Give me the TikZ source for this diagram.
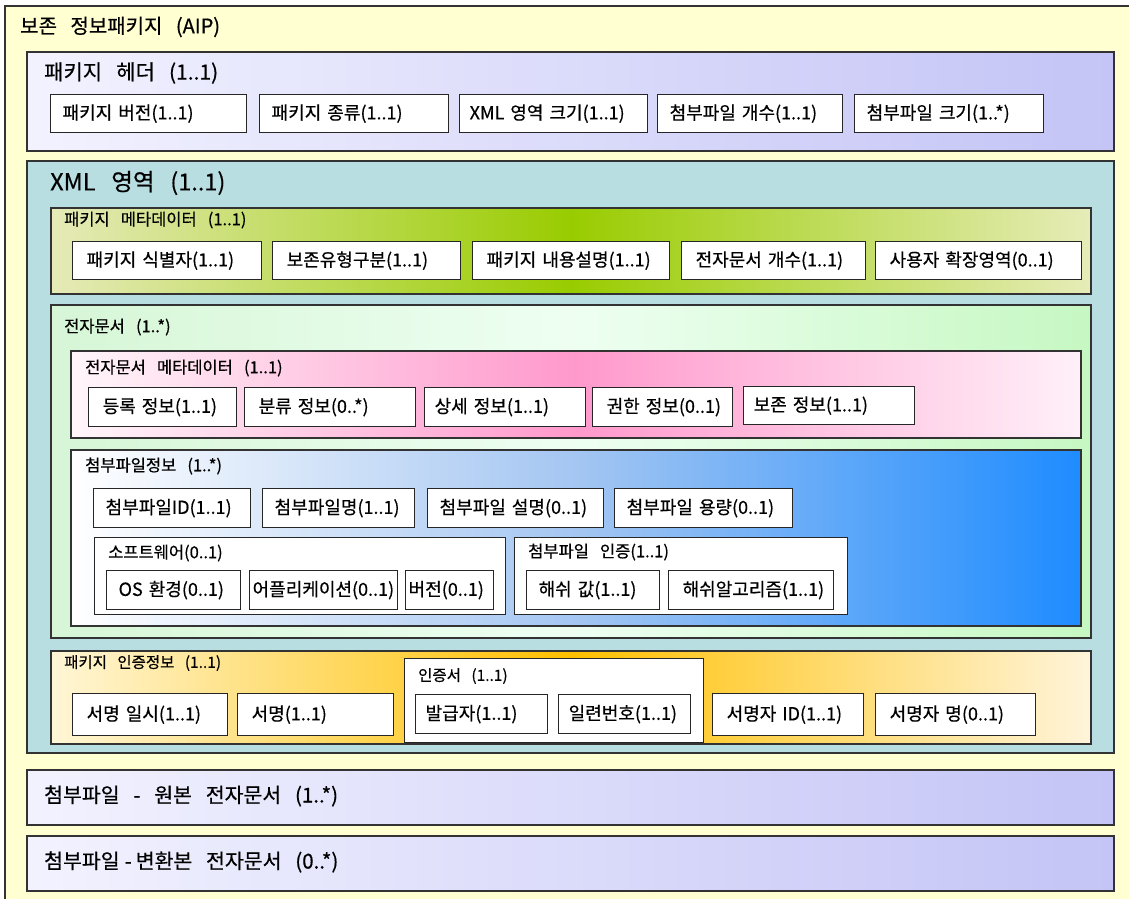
\documentclass[tikz,border=0pt]{standalone}
\usepackage{fontspec}
\setmainfont[WordSpace=3, FakeBold=0.5]{Noto Sans CJK KR}
\definecolor{aipY}{HTML}{FFFFD2}
\definecolor{hdrL}{HTML}{F2F2FF}
\definecolor{hdrR}{HTML}{C4C4F6}
\definecolor{xmlT}{HTML}{B8DEE2}
\definecolor{pmL}{HTML}{E6EAB8}
\definecolor{pmM}{HTML}{99CC00}
\definecolor{pmR}{HTML}{E6ECB8}
\definecolor{edL}{HTML}{D6F6D6}
\definecolor{edM}{HTML}{EEFFF2}
\definecolor{edR}{HTML}{C6F8C2}
\definecolor{emL}{HTML}{FFF6FA}
\definecolor{emM}{HTML}{FF99CC}
\definecolor{emR}{HTML}{FFF0F8}
\definecolor{atL}{HTML}{FFFFFF}
\definecolor{atM}{HTML}{A4C6F2}
\definecolor{atR}{HTML}{1E8CFF}
\definecolor{auL}{HTML}{FFF6D6}
\definecolor{auM}{HTML}{FFC000}
\definecolor{auR}{HTML}{FFF4DA}
\definecolor{lineC}{HTML}{333333}
\tikzset{
  container/.style={draw=lineC, line width=1.5pt, anchor=north west, inner sep=0pt},
  subcontainer/.style={draw=black!85, line width=1.3pt, fill=white, anchor=north west, inner sep=0pt},
  leafbox/.style={draw=black!85, line width=1.3pt, fill=white, anchor=north west,
     inner xsep=12pt, inner ysep=0pt, align=left, font=\fontsize{18}{18}\selectfont},
  aiptitle/.style={anchor=west, inner sep=0pt, font=\fontsize{20}{20}\selectfont},
  bigtitle/.style={anchor=west, inner sep=0pt, font=\fontsize{21}{21}\selectfont},
  bottitle/.style={anchor=west, inner sep=0pt, font=\fontsize{20.5}{20}\selectfont},
  xmltitle/.style={anchor=west, inner sep=0pt, font=\fontsize{23.5}{23}\selectfont},
  subtitle/.style={anchor=west, inner sep=0pt, font=\fontsize{16.5}{16}\selectfont},
  smalltitle/.style={anchor=west, inner sep=0pt, font=\fontsize{15.5}{15}\selectfont},
}
% #1 name, #2 x, #3 y, #4 width, #5 height, #6 text, #7 left padding
\newcommand\leafnode[7][12]{%
  \pgfmathsetmacro\tw{#5-2*#1}%
  \node[leafbox, inner xsep=#1pt, minimum width=#5, minimum height=#6, text width=\tw pt] (#2) at (#3,#4) {\mbox{#7}};}
\begin{document}
\begin{tikzpicture}[x=1pt,y=-1pt]
\useasboundingbox (0,0) rectangle (1129,898);
% outer AIP
\node[container, fill=aipY, minimum width=1140, minimum height=910] (aip) at (4,5) {};
\node[aiptitle] (aipT) at (20,27) {보존 정보패키지 (AIP)};
% package header
\node[container, left color=hdrL, right color=hdrR, minimum width=1087, minimum height=99] (hdr) at (26,51) {};
\node[bigtitle] (hdrT) at (44,73) {패키지 헤더 (1..1)};
\leafnode{h1}{50}{94}{196}{38}{패키지 버전(1..1)}
\leafnode{h2}{259}{94}{189}{38}{패키지 종류(1..1)}
\leafnode[10]{h3}{459}{94}{188}{38}{XML 영역 크기(1..1)}
\leafnode{h4}{657}{94}{185}{38}{첨부파일 개수(1..1)}
\leafnode{h5}{854}{94}{189}{38}{첨부파일 크기(1..*)}
% XML area
\node[container, fill=xmlT, minimum width=1087, minimum height=592] (xml) at (26,160) {};
\node[xmltitle] (xmlT) at (50,183) {XML 영역 (1..1)};
% package metadata
\node[container, left color=pmL, right color=pmR, middle color=pmM, minimum width=1040, minimum height=86] (pm) at (50,207) {};
\node[subtitle] (pmT) at (64,220) {패키지 메타데이터 (1..1)};
\leafnode[14]{p1}{72}{241}{189}{38}{패키지 식별자(1..1)}
\leafnode[14]{p2}{272}{241}{188}{38}{보존유형구분(1..1)}
\leafnode[14]{p3}{472}{241}{197}{38}{패키지 내용설명(1..1)}
\leafnode[14]{p4}{681}{241}{184}{38}{전자문서 개수(1..1)}
\leafnode[14]{p5}{875}{241}{206}{38}{사용자 확장영역(0..1)}
% electronic document
\node[container, left color=edL, right color=edR, middle color=edM, minimum width=1040, minimum height=333] (ed) at (50,304) {};
\node[subtitle] (edT) at (64,327) {전자문서 (1..*)};
% e-doc metadata
\node[container, left color=emL, right color=emR, middle color=emM, minimum width=1010, minimum height=87] (em) at (70,350) {};
\node[subtitle] (emT) at (85,368) {전자문서 메타데이터 (1..1)};
\leafnode[14]{e1}{88}{387}{148}{39}{등록 정보(1..1)}
\leafnode[14]{e2}{244}{387}{171}{39}{분류 정보(0..*)}
\leafnode[10]{e3}{424}{387}{161}{39}{상세 정보(1..1)}
\leafnode[14]{e4}{592}{387}{140}{39}{권한 정보(0..1)}
\leafnode[10]{e5}{743}{386}{171}{38}{보존 정보(1..1)}
% attachment info
\node[container, left color=atL, right color=atR, middle color=atM, minimum width=1010, minimum height=176] (at) at (70,449) {};
\node[subtitle] (atT) at (85,466) {첨부파일정보 (1..*)};
\leafnode{a1}{93}{488}{157}{39}{첨부파일ID(1..1)}
\leafnode{a2}{262}{488}{152}{39}{첨부파일명(1..1)}
\leafnode{a3}{427}{488}{176}{39}{첨부파일 설명(0..1)}
\leafnode{a4}{614}{488}{178}{39}{첨부파일 용량(0..1)}
% software
\node[subcontainer, minimum width=411, minimum height=77] (sw) at (94,537) {};
\node[subtitle] (swT) at (108,553) {소프트웨어(0..1)};
\leafnode[12]{s1}{106}{570}{134}{39}{OS 환경(0..1)}
\leafnode[3]{s2}{249}{570}{148}{39}{어플리케이션(0..1)}
\leafnode[3]{s3}{405}{570}{88}{39}{버전(0..1)}
% file authentication
\node[subcontainer, minimum width=333, minimum height=77] (fa) at (514,537) {};
\node[subtitle] (faT) at (528,552) {첨부파일 인증(1..1)};
\leafnode[12]{f1}{526}{570}{133}{39}{해쉬 값(1..1)}
\leafnode[14]{f2}{668}{570}{165}{39}{해쉬알고리즘(1..1)}
% package authentication
\node[container, left color=auL, right color=auR, middle color=auM, minimum width=1040, minimum height=93] (au) at (50,650) {};
\node[smalltitle] (auT) at (64,663) {패키지 인증정보 (1..1)};
\leafnode[14]{u1}{72}{693}{155}{42}{서명 일시(1..1)}
\leafnode[14]{u2}{237}{693}{156}{42}{서명(1..1)}
\node[subcontainer, minimum width=299, minimum height=84] (ce) at (404,658) {};
\node[smalltitle] (ceT) at (418,676) {인증서 (1..1)};
\leafnode[10]{c1}{415}{694}{132}{39}{발급자(1..1)}
\leafnode[10]{c2}{558}{694}{132}{39}{일련번호(1..1)}
\leafnode[14]{u3}{712}{693}{151}{42}{서명자 ID(1..1)}
\leafnode[14]{u4}{875}{693}{160}{42}{서명자 명(0..1)}
% attachments
\node[container, left color=hdrL, right color=hdrR, minimum width=1087, minimum height=55] (orig) at (26,769) {};
\node[bottitle] (origT) at (44,796) {첨부파일 - 원본 전자문서 (1..*)};
\node[container, left color=hdrL, right color=hdrR, minimum width=1087, minimum height=55] (conv) at (26,835) {};
\node[bottitle] (convT) at (44,862) {첨부파일\hspace{5pt}-\hspace{4pt}변환본 전자문서 (0..*)};
\end{tikzpicture}
\end{document}
